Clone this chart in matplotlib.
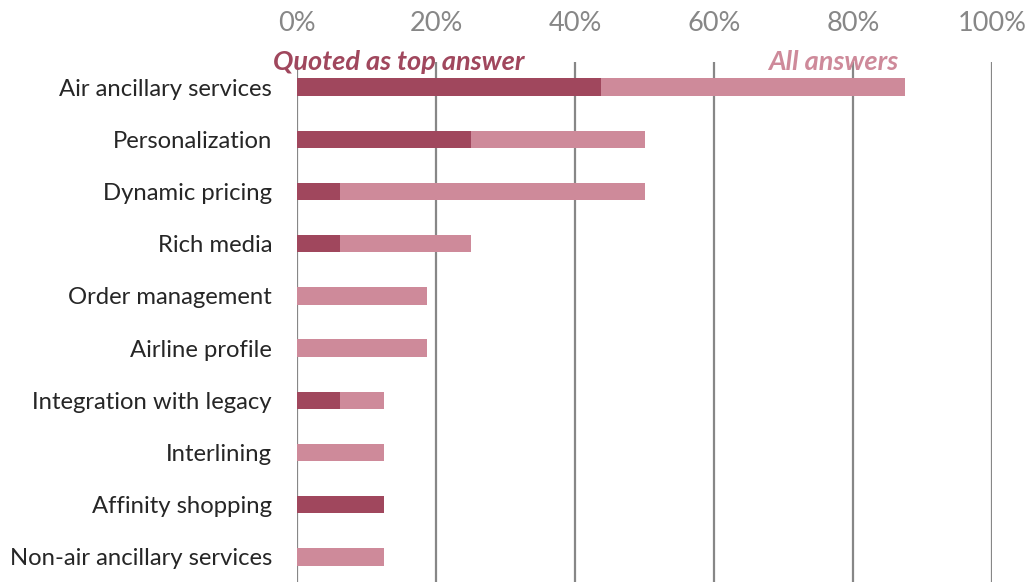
import numpy as np
from matplotlib import pyplot as plt

categories = ["Air ancillary services", "Personalization", "Dynamic pricing",
              "Rich media", "Order management", "Airline profile",
              "Integration with legacy", "Interlining", "Affinity shopping",
              "Non-air ancillary services"]
top_answer = [43.75, 25.0, 6.25, 6.25, 0.0, 0.0, 6.25, 0.0, 12.5, 0.0]
all_answers = [87.5, 50.0, 50.0, 25.0, 18.75, 18.75, 12.5, 12.5, 12.5, 12.5]
xticks = [0, 20, 40, 60, 80, 100]

plt.rcParams['font.family'] = ['Lato', 'DejaVu Sans']

dark = "#a0475d"
light = "#ce8a9a"
grey = "#878787"

fig = plt.figure(figsize=(10.28, 5.82), dpi=100)
ax = fig.add_axes([297/1028, 0, (992-297)/1028, (582-62)/582])

y = np.arange(len(categories))
ax.barh(y, all_answers, height=0.33, color=light, zorder=2)
ax.barh(y, top_answer, height=0.33, color=dark, zorder=3)

ax.set_xlim(0, 100)
ax.set_ylim(len(categories) - 1 + 0.48, -0.48)
ax.set_yticks(y)
ax.set_yticklabels(categories, fontsize=17.2, color="#262626")
ax.set_xticks(xticks)
ax.set_xticklabels(["{}%".format(t) for t in xticks], fontsize=19.5, color=grey)
ax.xaxis.tick_top()
ax.tick_params(axis="x", length=0, pad=19)
ax.tick_params(axis="y", length=0, pad=18)

for s in ax.spines.values():
    s.set_visible(False)
for t in xticks:
    ax.axvline(t, color=grey, lw=1.6, zorder=1)

# legend-like labels above the first bar
ax.text(-24/695*100, -0.48, "Quoted as top answer", color=dark, fontsize=19.5,
        fontweight="bold", fontstyle="italic", ha="left", va="center", clip_on=False, zorder=5)
ax.text(86.5, -0.48, "All answers", color=light, fontsize=19.5,
        fontweight="bold", fontstyle="italic", ha="right", va="center", clip_on=False, zorder=5)

fig.savefig("out.png", dpi=100)
